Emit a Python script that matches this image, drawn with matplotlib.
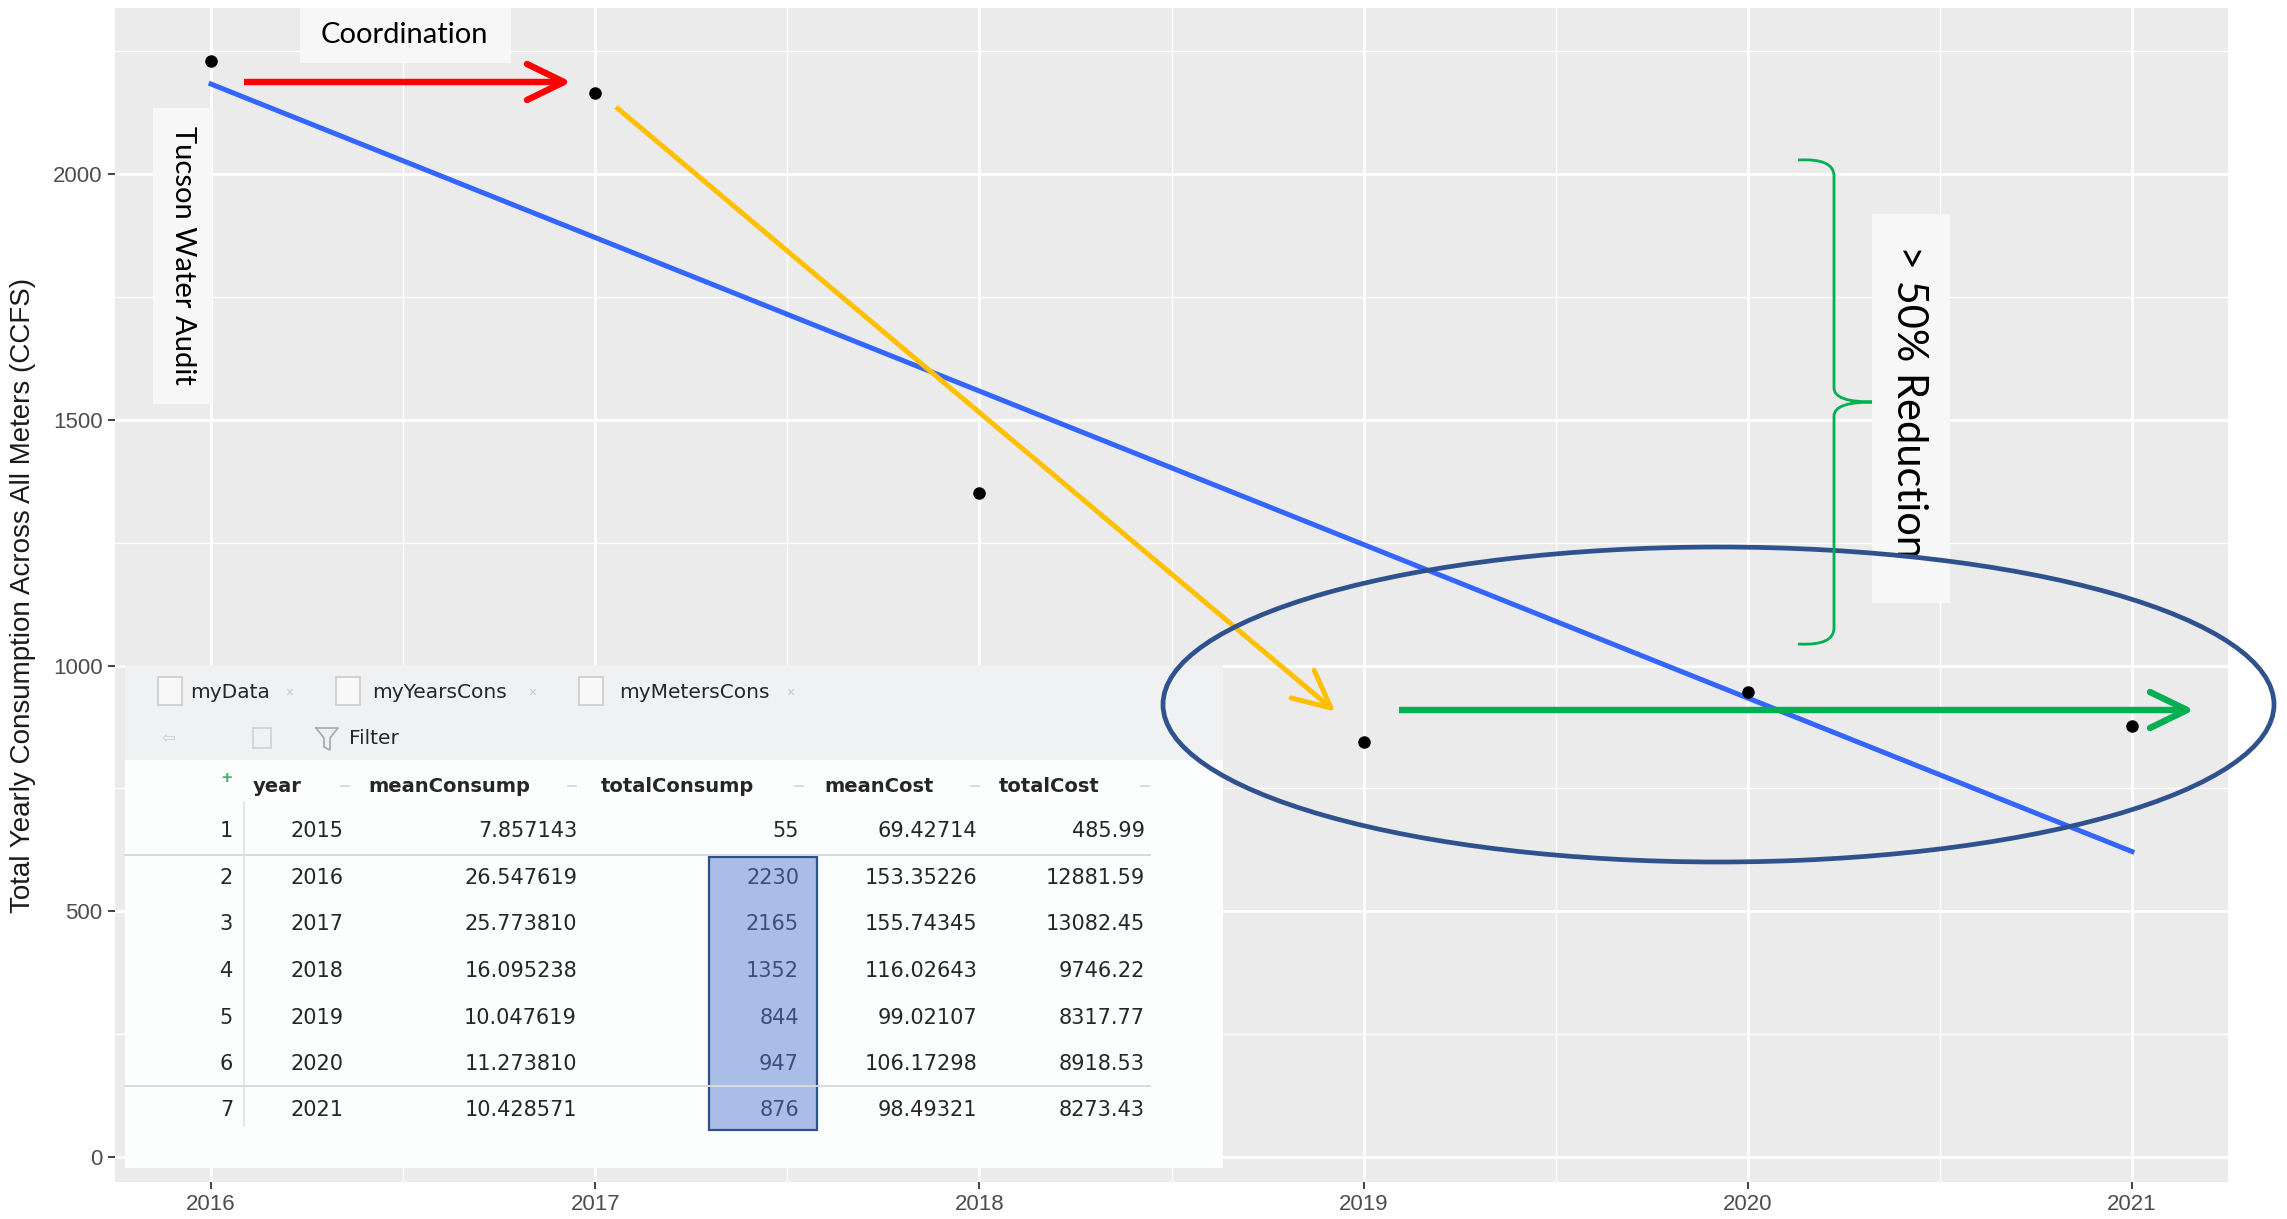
import numpy as np
import matplotlib.pyplot as plt
from matplotlib.patches import Rectangle, Ellipse, PathPatch
from matplotlib.path import Path
from matplotlib.ticker import MultipleLocator

plt.rcParams['font.family'] = ['Liberation Sans', 'DejaVu Sans']

# table values (RStudio data viewer screenshot)
tbl_row = [1, 2, 3, 4, 5, 6, 7]
tbl_year = [2015, 2016, 2017, 2018, 2019, 2020, 2021]
tbl_mean_consump = [7.857143, 26.547619, 25.773810, 16.095238, 10.047619, 11.273810, 10.428571]
tbl_total_consump = [55, 2230, 2165, 1352, 844, 947, 876]
tbl_mean_cost = [69.42714, 153.35226, 155.74345, 116.02643, 99.02107, 106.17298, 98.49321]
tbl_total_cost = [485.99, 12881.59, 13082.45, 9746.22, 8317.77, 8918.53, 8273.43]
tab_names = ["myData", "myYearsCons", "myMetersCons"]
col_names = ["year", "meanConsump", "totalConsump", "meanCost", "totalCost"]

# plotted: 2016 onwards
years = np.array(tbl_year[1:])
total = np.array(tbl_total_consump[1:])
slope, icpt = np.polyfit(years, total, 1)

W, H = 2287, 1219
fig = plt.figure(figsize=(W / 100, H / 100), dpi=100)

# ---- main ggplot-like panel
ax = fig.add_axes([115 / W, 1 - 1182 / H, (2228 - 115) / W, (1182 - 8) / H])
ax.set_facecolor('#EBEBEB')
ax.set_xlim(2015.75, 2021.25)
ax.set_ylim(-51, 2338)
ax.xaxis.set_major_locator(MultipleLocator(1))
ax.xaxis.set_minor_locator(MultipleLocator(0.5))
ax.yaxis.set_major_locator(MultipleLocator(500))
ax.yaxis.set_minor_locator(MultipleLocator(250))
ax.xaxis.set_major_formatter(lambda v, p: f"{int(round(v))}")
ax.grid(which='major', color='white', lw=2.0)
ax.grid(which='minor', color='white', lw=1.0)
ax.set_axisbelow(True)
for s in ax.spines.values():
    s.set_visible(False)
ax.tick_params(which='minor', length=0)
ax.tick_params(which='major', length=5, width=1.3, color='#333333',
               labelsize=16, labelcolor='#4D4D4D', pad=4)
ax.set_ylabel('Total Yearly Consumption Across All Meters (CCFS)', fontsize=20,
              color='#1a1a1a', labelpad=12)

xs = np.array([years.min(), years.max()])
ax.plot(xs, icpt + slope * xs, color='#3366FF', lw=3.6, zorder=2)
ax.plot(years, total, 'o', color='black', ms=8, zorder=3)

# ---- overlay in pixel coords for the inset table and annotations
ov = fig.add_axes([0, 0, 1, 1], zorder=5)
ov.set_xlim(0, W)
ov.set_ylim(H, 0)
ov.axis('off')
ov.patch.set_alpha(0)

# inset table
ov.add_patch(Rectangle((125, 665), 1098, 503, fc='#FCFDFD', ec='none', zorder=1))
ov.add_patch(Rectangle((125, 665), 1098, 95, fc='#EFF1F2', ec='none', zorder=1))
tfont = dict(family='DejaVu Sans', color='#262626', va='center')

tab_icon_x = [158, 336, 579]
tab_text_x = [190, 372, 619]
tab_end_x = [289, 532, 790]
for ix, tx, ex, name in zip(tab_icon_x, tab_text_x, tab_end_x, tab_names):
    ov.add_patch(Rectangle((ix, 677), 24, 28, fc='#F8F8F8', ec='#C9CBCC', lw=1.2, zorder=2))
    ov.text(tx, 693, name, fontsize=14.5, zorder=3, **tfont)
    ov.text(ex, 693, '×', fontsize=10, color='#C8C8C8', va='center', ha='center', zorder=3)

ov.text(168, 738, '⇦', fontsize=12, color='#CFCFCF', va='center', ha='center', zorder=3)
ov.add_patch(Rectangle((253, 728), 18, 20, fc='none', ec='#D0D0D0', lw=1.2, zorder=2))
ov.plot([316, 338, 330, 330, 324, 324, 316], [728, 728, 738, 750, 747, 738, 728],
        color='#A8A8A8', lw=1.2, zorder=3)
ov.text(349, 738, 'Filter', fontsize=14.5, zorder=3, **tfont)

hdr_x = [253, 368, 601, 824, 999]
for hx, name in zip(hdr_x, col_names):
    ov.text(hx, 786, name, fontsize=14, fontweight='bold', zorder=3, **tfont)
for sx in [345, 572, 799, 975, 1145]:
    ov.plot([sx - 4, sx + 4], [786, 786], color='#D5D5D5', lw=1.2, zorder=3)
ov.text(226, 779, '+', fontsize=13, color='#3CB371', va='center', ha='center',
        fontweight='bold', zorder=3)

ov.add_patch(Rectangle((709, 857), 108, 273, fc='#A9BDE6', ec='#2F4F8F', lw=1.6, zorder=2))
ov.plot([244, 244], [802, 1126], color='#E2E2E2', lw=1.2, zorder=2)
ov.plot([125, 1150], [855, 855], color='#D8DADB', lw=1.4, zorder=2)
ov.plot([125, 1150], [1086, 1086], color='#D8DADB', lw=1.4, zorder=2)

row_y = [831, 878, 924.5, 971, 1017.5, 1063.5, 1110]
for i, ry in enumerate(row_y):
    ov.text(233, ry, str(tbl_row[i]), ha='right', fontsize=15, zorder=3, **tfont)
    ov.text(343.5, ry, str(tbl_year[i]), ha='right', fontsize=15, zorder=3, **tfont)
    ov.text(577, ry, f"{tbl_mean_consump[i]:.6f}", ha='right', fontsize=15, zorder=3, **tfont)
    hl = i >= 1
    ov.text(799, ry, str(tbl_total_consump[i]), ha='right', fontsize=15, zorder=3,
            **{**tfont, 'color': '#3E4E78' if hl else '#262626'})
    ov.text(977.5, ry, f"{tbl_mean_cost[i]:.5f}", ha='right', fontsize=15, zorder=3, **tfont)
    ov.text(1145, ry, f"{tbl_total_cost[i]:.2f}", ha='right', fontsize=15, zorder=3, **tfont)

# annotation boxes
box_fc = '#F7F7F7'
ov.add_patch(Rectangle((300, 8), 211, 55, fc=box_fc, ec='none', zorder=4))
ov.text(404, 35, 'Coordination', family='Lato', fontsize=21, ha='center', va='center', zorder=5)
ov.add_patch(Rectangle((153, 108), 59, 296, fc=box_fc, ec='none', zorder=4))
ov.text(183, 255, 'Tucson Water Audit', family='Lato', fontsize=21, rotation=-90,
        ha='center', va='center', zorder=5)
ov.add_patch(Rectangle((1872, 214), 78, 389, fc=box_fc, ec='none', zorder=4))
ov.text(1909, 402, '> 50% Reduction', family='Lato', fontsize=30, rotation=-90,
        ha='center', va='center', zorder=5)


def arrow(x0, y0, x1, y1, color, lw, hl=37, hw=18):
    ov.plot([x0, x1], [y0, y1], color=color, lw=lw, solid_capstyle='butt', zorder=6)
    d = np.array([x1 - x0, y1 - y0], dtype=float)
    d /= np.hypot(*d)
    p = np.array([-d[1], d[0]])
    b = np.array([x1, y1]) - hl * d
    a1, a2 = b + hw * p, b - hw * p
    ov.plot([a1[0], x1, a2[0]], [a1[1], y1, a2[1]], color=color, lw=lw,
            solid_capstyle='round', solid_joinstyle='round', zorder=6)


arrow(244, 82, 564, 82, '#FF0000', 4.6)
arrow(616, 107, 1331, 708, '#FFC000', 3.6)
arrow(1399, 710, 2187, 710, '#00B050', 4.6)

ov.add_patch(Ellipse((1718.5, 704.5), 1111, 315, fill=False, ec='#2F528F', lw=3.4, zorder=6))

brace = Path(
    [(1798, 160), (1834, 158), (1834, 176), (1834, 388), (1834, 402), (1872, 402),
     (1834, 402), (1834, 416), (1834, 628), (1834, 646), (1798, 644)],
    [Path.MOVETO, Path.CURVE3, Path.CURVE3, Path.LINETO, Path.CURVE3, Path.CURVE3,
     Path.CURVE3, Path.CURVE3, Path.LINETO, Path.CURVE3, Path.CURVE3])
ov.add_patch(PathPatch(brace, fill=False, ec='#00B050', lw=2.0, zorder=6))

fig.savefig('out.png', dpi=100)
